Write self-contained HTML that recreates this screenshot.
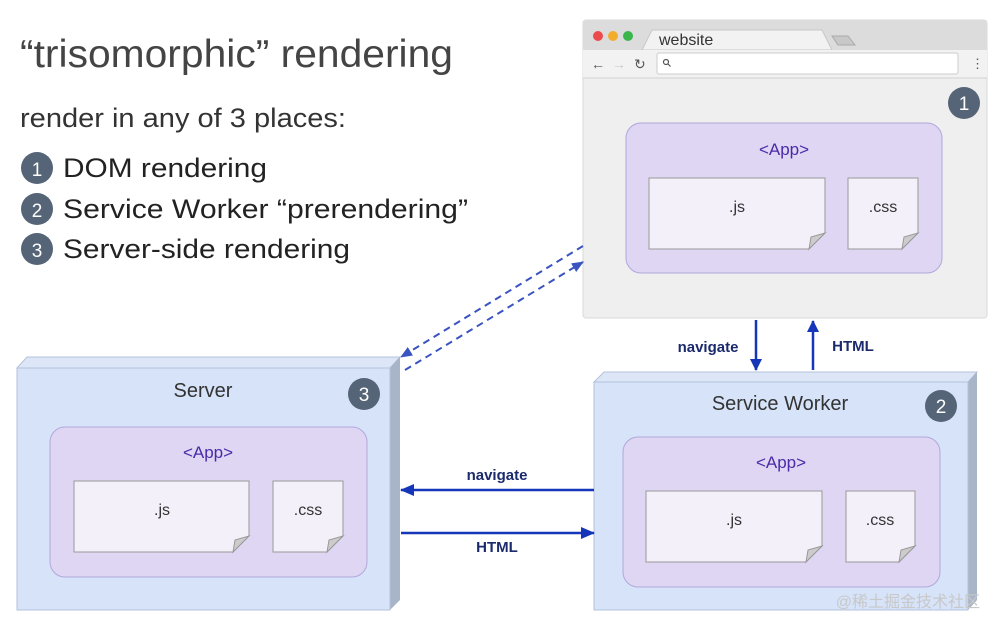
<!DOCTYPE html>
<html><head><meta charset="utf-8"><style>
html,body{margin:0;padding:0;background:#fff;}
svg{display:block;}
text{font-family:"Liberation Sans","Noto Sans CJK SC",sans-serif;}
</style></head><body>
<svg width="1000" height="630" viewBox="0 0 1000 630" xmlns="http://www.w3.org/2000/svg">
<defs>
<marker id="ah" markerWidth="12" markerHeight="14" refX="11" refY="6" orient="auto" markerUnits="userSpaceOnUse"><path d="M0,0 L12,6 L0,12 Z" fill="#1536b8"/></marker>
<marker id="ahs" markerWidth="14" markerHeight="12" refX="13" refY="6" orient="auto" markerUnits="userSpaceOnUse"><path d="M0,0 L14,6 L0,12 Z" fill="#1536b8"/></marker>
<marker id="ahd" markerWidth="12" markerHeight="10" refX="11" refY="5" orient="auto" markerUnits="userSpaceOnUse"><path d="M0,0 L12,5 L0,10 Z" fill="#3a54c2"/></marker>
</defs>

<!-- left text -->
<text x="20" y="67" font-size="39" fill="#444" textLength="433" lengthAdjust="spacingAndGlyphs">“trisomorphic” rendering</text>
<text x="20" y="127" font-size="27" fill="#333" textLength="326" lengthAdjust="spacingAndGlyphs">render in any of 3 places:</text>
<g font-size="27" fill="#222">
<circle cx="37" cy="168" r="16" fill="#556476"/><text x="37" y="176" font-size="19" fill="#fff" text-anchor="middle">1</text>
<text x="63" y="177" textLength="204" lengthAdjust="spacingAndGlyphs">DOM rendering</text>
<circle cx="37" cy="209" r="16" fill="#556476"/><text x="37" y="217" font-size="19" fill="#fff" text-anchor="middle">2</text>
<text x="63" y="218" textLength="405" lengthAdjust="spacingAndGlyphs">Service Worker “prerendering”</text>
<circle cx="37" cy="249" r="16" fill="#556476"/><text x="37" y="257" font-size="19" fill="#fff" text-anchor="middle">3</text>
<text x="63" y="258" textLength="287" lengthAdjust="spacingAndGlyphs">Server-side rendering</text>
</g>

<!-- browser -->
<rect x="583" y="20" width="404" height="298" rx="3" fill="#efefef" stroke="#dadada"/>
<path d="M583,23 Q583,20 586,20 H984 Q987,20 987,23 V50 H583 Z" fill="#dcdcdc"/>
<path d="M642,50 L652,30 H822 L832,50 Z" fill="#f2f2f2" stroke="#c8c8c8"/>
<path d="M832,36 H848 L855,45 H838 Z" fill="#c8c8c8" stroke="#aaa"/>
<rect x="583" y="50" width="404" height="28" fill="#f2f2f2"/>
<line x1="583" y1="78" x2="987" y2="78" stroke="#d2d2d2"/>
<circle cx="598" cy="36" r="5" fill="#ec4b4b"/><circle cx="613" cy="36" r="5" fill="#f2ad2f"/><circle cx="628" cy="36" r="5" fill="#3ab64a"/>
<text x="659" y="45" font-size="16" fill="#333">website</text>
<rect x="657" y="53" width="301" height="21" rx="2" fill="#fff" stroke="#ccc"/>
<circle cx="666" cy="62" r="2.5" fill="none" stroke="#555" stroke-width="1.2"/><line x1="668" y1="64" x2="670.5" y2="66.5" stroke="#555" stroke-width="1.2"/>
<text x="591" y="69" font-size="14" fill="#555">←</text>
<text x="612" y="69" font-size="14" fill="#ccc">→</text>
<text x="634" y="69" font-size="14" fill="#555">↻</text>
<text x="971" y="68" font-size="13" fill="#555">⋮</text>
<circle cx="964" cy="103" r="16" fill="#556476"/><text x="964" y="110" font-size="19" fill="#fff" text-anchor="middle">1</text>
<rect x="626" y="123" width="316" height="150" rx="15" fill="#ded6f2" stroke="#b1a8dc"/>
<text x="784" y="155" font-size="17" fill="#4a2aa8" text-anchor="middle">&lt;App&gt;</text>
<path d="M649,178 H825 V233 L809,249 H649 Z" fill="#f3f0fa" stroke="#999"/><path d="M825,233 L809,249 L811,237 Z" fill="#ccc" stroke="#999"/>
<text x="737" y="212" font-size="16" fill="#333" text-anchor="middle">.js</text>
<path d="M848,178 H918 V233 L902,249 H848 Z" fill="#f3f0fa" stroke="#999"/><path d="M918,233 L902,249 L904,237 Z" fill="#ccc" stroke="#999"/>
<text x="883" y="212" font-size="16" fill="#333" text-anchor="middle">.css</text>

<!-- server -->
<path d="M17,368 L27,357 H400 L390,368 Z" fill="#dce6f7" stroke="#b4c3dc"/>
<path d="M390,368 L400,357 V600 L390,610 Z" fill="#a8b4c8"/>
<rect x="17" y="368" width="373" height="242" fill="#d6e3f8" stroke="#b4c3dc"/>
<text x="203" y="397" font-size="20" fill="#333" text-anchor="middle">Server</text>
<circle cx="364" cy="394" r="16" fill="#556476"/><text x="364" y="401" font-size="19" fill="#fff" text-anchor="middle">3</text>
<rect x="50" y="427" width="317" height="150" rx="15" fill="#ded6f2" stroke="#b1a8dc"/>
<text x="208" y="458" font-size="17" fill="#4a2aa8" text-anchor="middle">&lt;App&gt;</text>
<path d="M74,481 H249 V536 L233,552 H74 Z" fill="#f3f0fa" stroke="#999"/><path d="M249,536 L233,552 L235,540 Z" fill="#ccc" stroke="#999"/>
<text x="162" y="515" font-size="16" fill="#333" text-anchor="middle">.js</text>
<path d="M273,481 H343 V536 L327,552 H273 Z" fill="#f3f0fa" stroke="#999"/><path d="M343,536 L327,552 L329,540 Z" fill="#ccc" stroke="#999"/>
<text x="308" y="515" font-size="16" fill="#333" text-anchor="middle">.css</text>

<!-- service worker -->
<path d="M594,382 L604,372 H977 L968,382 Z" fill="#dce6f7" stroke="#b4c3dc"/>
<path d="M968,382 L977,372 V600 L968,610 Z" fill="#a8b4c8"/>
<rect x="594" y="382" width="374" height="228" fill="#d6e3f8" stroke="#b4c3dc"/>
<text x="780" y="410" font-size="20" fill="#333" text-anchor="middle">Service Worker</text>
<circle cx="941" cy="406" r="16" fill="#556476"/><text x="941" y="413" font-size="19" fill="#fff" text-anchor="middle">2</text>
<rect x="623" y="437" width="317" height="150" rx="15" fill="#ded6f2" stroke="#b1a8dc"/>
<text x="781" y="468" font-size="17" fill="#4a2aa8" text-anchor="middle">&lt;App&gt;</text>
<path d="M646,491 H822 V546 L806,562 H646 Z" fill="#f3f0fa" stroke="#999"/><path d="M822,546 L806,562 L808,550 Z" fill="#ccc" stroke="#999"/>
<text x="734" y="525" font-size="16" fill="#333" text-anchor="middle">.js</text>
<path d="M846,491 H915 V546 L899,562 H846 Z" fill="#f3f0fa" stroke="#999"/><path d="M915,546 L899,562 L901,550 Z" fill="#ccc" stroke="#999"/>
<text x="880" y="525" font-size="16" fill="#333" text-anchor="middle">.css</text>
<text x="980" y="607" font-size="16" fill="#c8c8c8" text-anchor="end">@稀土掘金技术社区</text>

<!-- arrows -->
<line x1="756" y1="320" x2="756" y2="370" stroke="#1536b8" stroke-width="2.5" marker-end="url(#ah)"/>
<line x1="813" y1="370" x2="813" y2="321" stroke="#1536b8" stroke-width="2.5" marker-end="url(#ah)"/>
<text x="708" y="352" font-size="15" font-weight="bold" fill="#1a2a6c" text-anchor="middle">navigate</text>
<text x="853" y="351" font-size="15" font-weight="bold" fill="#1a2a6c" text-anchor="middle">HTML</text>
<line x1="594" y1="490" x2="401" y2="490" stroke="#1536b8" stroke-width="2.5" marker-end="url(#ahs)"/>
<line x1="401" y1="533" x2="594" y2="533" stroke="#1536b8" stroke-width="2.5" marker-end="url(#ahs)"/>
<text x="497" y="480" font-size="15" font-weight="bold" fill="#1a2a6c" text-anchor="middle">navigate</text>
<text x="497" y="552" font-size="15" font-weight="bold" fill="#1a2a6c" text-anchor="middle">HTML</text>
<line x1="583" y1="246" x2="401" y2="357" stroke="#3a54c2" stroke-width="2" stroke-dasharray="7,5" marker-end="url(#ahd)"/>
<line x1="405" y1="370" x2="583" y2="262" stroke="#3a54c2" stroke-width="2" stroke-dasharray="7,5" marker-end="url(#ahd)"/>
</svg>
</body></html>
